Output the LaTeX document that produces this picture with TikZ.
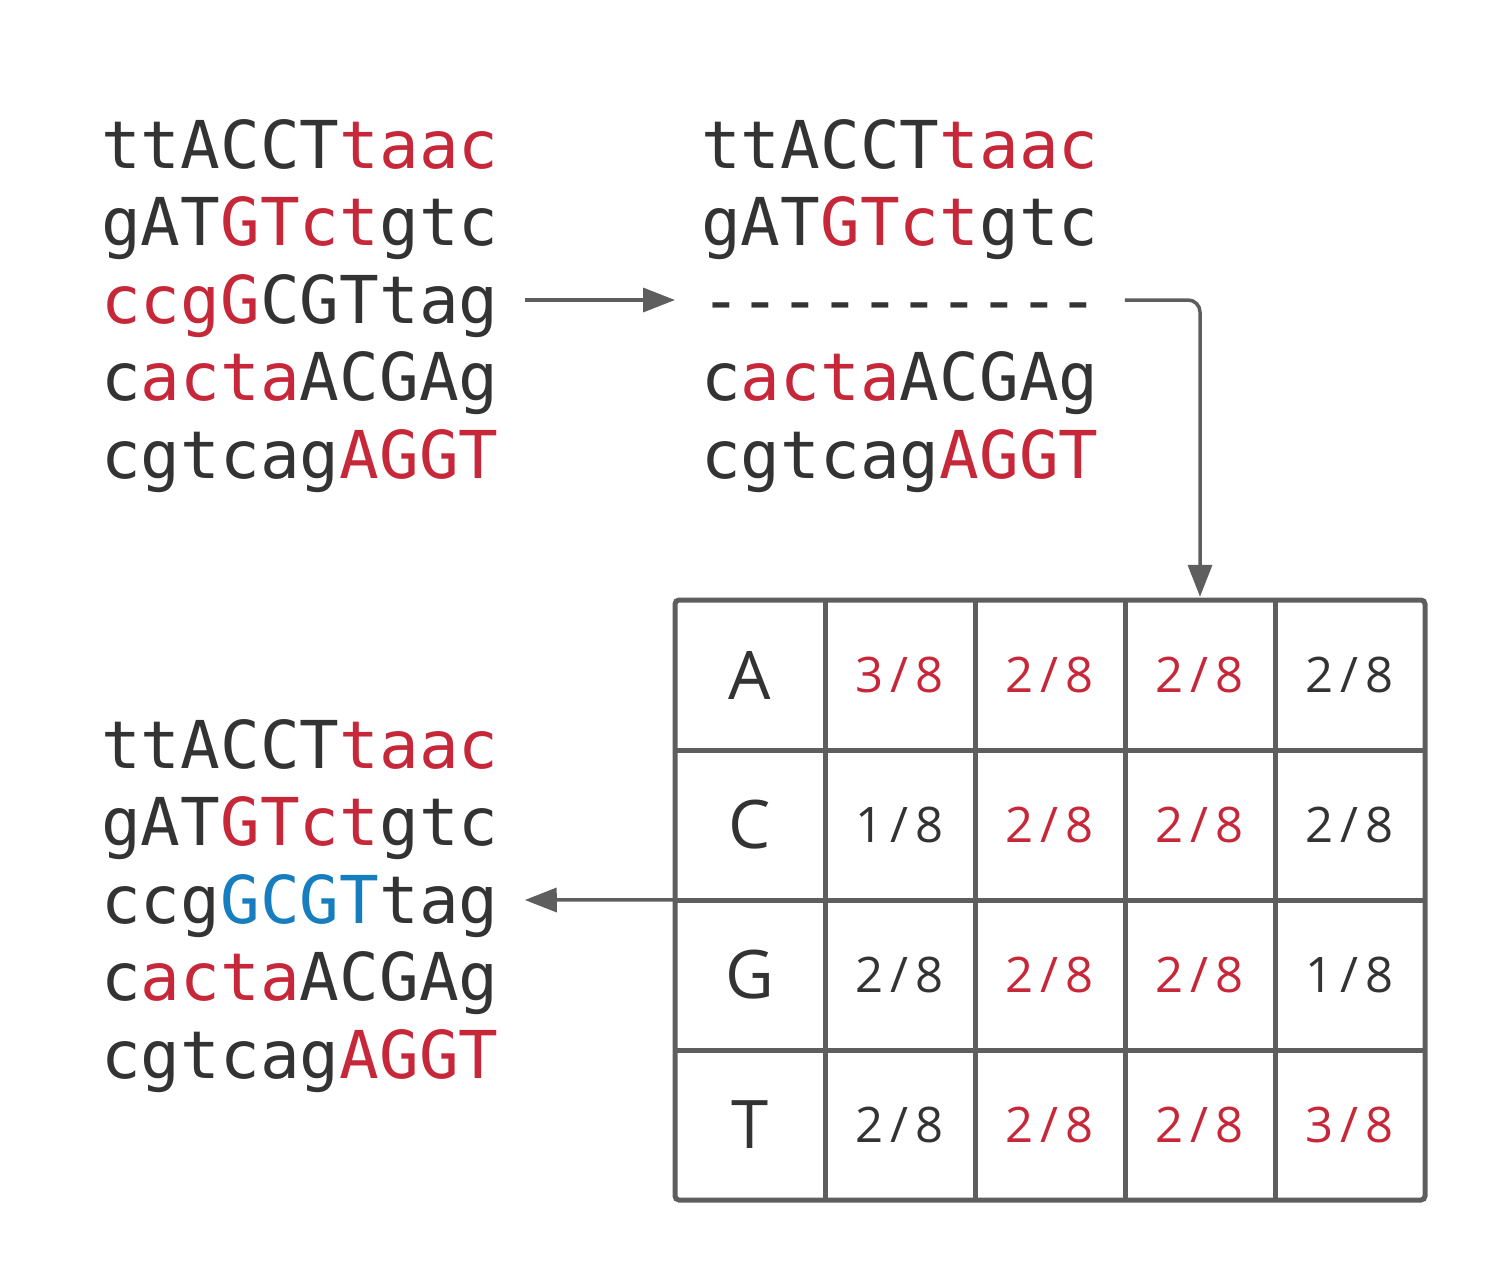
\documentclass[tikz,border=0pt]{standalone}
\usepackage{fontspec}
\setmonofont{DejaVu Sans Mono}
\setsansfont{Open Sans}
\usetikzlibrary{arrows.meta,calc}
\definecolor{rd}{RGB}{199,40,57}
\definecolor{dk}{RGB}{51,51,51}
\definecolor{bl}{RGB}{22,125,190}
\definecolor{ln}{RGB}{94,94,94}
\newcommand{\R}[1]{\textcolor{rd}{#1}}
\newcommand{\B}[1]{\textcolor{bl}{#1}}
\newcommand{\fr}[2]{#1\kern7pt/\kern7pt#2}
\begin{document}
\begin{tikzpicture}[x=1pt,y=-1pt,
  seq/.style={anchor=base west,inner sep=0pt,text=dk,font=\ttfamily\fontsize{66}{78}\selectfont},
  cell/.style={minimum width=150pt,minimum height=150pt,inner sep=0pt,text=dk,font=\sffamily\fontsize{49}{58}\selectfont},
  head/.style={cell,font=\sffamily\fontsize{67}{80}\selectfont},
  conn/.style={draw=ln,line width=3.5pt,-{Triangle[length=32pt,width=24pt]}},
  grid/.style={draw=ln,line width=5pt}]
\useasboundingbox (0,0) rectangle (1500,1275);
% left group
\node[seq] (l1) at (101,168) {ttACCT\R{taac}};
\node[seq] (l2) at (101,245.5) {gAT\R{GTct}gtc};
\node[seq] (l3) at (101,323) {\R{ccgG}CGTtag};
\node[seq] (l4) at (101,400.5) {c\R{acta}ACGAg};
\node[seq] (l5) at (101,478) {cgtcag\R{AGGT}};
% middle group
\node[seq] (m1) at (701,168) {ttACCT\R{taac}};
\node[seq] (m2) at (701,245.5) {gAT\R{GTct}gtc};
\node[seq] (m3) at (701,323) {----------};
\node[seq] (m4) at (701,400.5) {c\R{acta}ACGAg};
\node[seq] (m5) at (701,478) {cgtcag\R{AGGT}};
% bottom group
\node[seq] (b1) at (101,768) {ttACCT\R{taac}};
\node[seq] (b2) at (101,845.5) {gAT\R{GTct}gtc};
\node[seq] (b3) at (101,923) {ccg\B{GCGT}tag};
\node[seq] (b4) at (101,1000.5) {c\R{acta}ACGAg};
\node[seq] (b5) at (101,1078) {cgtcag\R{AGGT}};
% table
\draw[grid,rounded corners=4pt] (675,600) rectangle (1425,1200);
\foreach \x in {825,975,1125,1275} \draw[grid] (\x,600) -- (\x,1200);
\foreach \y in {750,900,1050} \draw[grid] (675,\y) -- (1425,\y);
\node[head] (hA) at (750,675) {A};
\node[head] (hC) at (750,825) {C};
\node[head] (hG) at (750,975) {G};
\node[head] (hT) at (750,1125) {T};
\node[cell,text=rd] (cA1) at (900,675) {\fr38};
\node[cell,text=rd] (cA2) at (1050,675) {\fr28};
\node[cell,text=rd] (cA3) at (1200,675) {\fr28};
\node[cell] (cA4) at (1350,675) {\fr28};
\node[cell] (cC1) at (900,825) {\fr18};
\node[cell,text=rd] (cC2) at (1050,825) {\fr28};
\node[cell,text=rd] (cC3) at (1200,825) {\fr28};
\node[cell] (cC4) at (1350,825) {\fr28};
\node[cell] (cG1) at (900,975) {\fr28};
\node[cell,text=rd] (cG2) at (1050,975) {\fr28};
\node[cell,text=rd] (cG3) at (1200,975) {\fr28};
\node[cell] (cG4) at (1350,975) {\fr18};
\node[cell] (cT1) at (900,1125) {\fr28};
\node[cell,text=rd] (cT2) at (1050,1125) {\fr28};
\node[cell,text=rd] (cT3) at (1200,1125) {\fr28};
\node[cell,text=rd] (cT4) at (1350,1125) {\fr38};
% connectors
\draw[conn] ($(l3.base east)+(26,-23)$) -- ($(m3.base west)+(-26,-23)$);
\draw[conn,rounded corners=12pt,shorten >=3pt] ($(m3.base east)+(26,-23)$) -| (cA3.north);
\draw[conn] (hG.north west) -- ($(b3.base east)+(26,-23)$);
\end{tikzpicture}
\end{document}
